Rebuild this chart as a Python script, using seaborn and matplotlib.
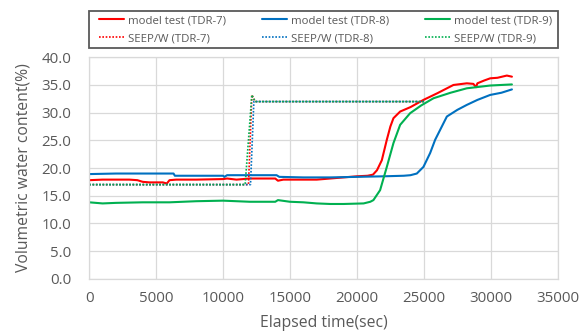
import matplotlib
matplotlib.use("Agg")
import matplotlib.pyplot as plt
from matplotlib.patches import Rectangle
import seaborn as sns
import pandas as pd

# ---- data ----
t7 = [0, 1000, 2000, 3000, 3600, 4000, 4500, 5000, 5500, 5800, 6000, 6500, 8000, 10000, 10300, 11000, 12000,
      13000, 13900, 14100, 14500, 16000, 17000, 18000, 19000, 20000, 20800, 21200, 21500, 21860, 22234, 22500,
      22730, 23230, 24000, 24970, 26000, 27210, 28210, 28700, 28900, 29000, 29500, 29955, 30500, 31200, 31580]
v7 = [17.8, 17.9, 17.9, 17.9, 17.8, 17.5, 17.4, 17.4, 17.4, 17.2, 17.8, 17.9, 17.9, 18.0, 18.1, 17.9, 18.1,
      18.1, 18.1, 17.7, 17.9, 17.9, 17.9, 18.1, 18.3, 18.5, 18.6, 18.8, 19.6, 21.4, 25.1, 27.5,
      29.0, 30.2, 31.0, 32.3, 33.5, 35.0, 35.3, 35.2, 34.6, 35.3, 35.8, 36.2, 36.3, 36.7, 36.5]

t8 = [0, 2000, 6300, 6400, 8000, 10000, 10100, 10300, 12000, 14000, 14200, 16000, 18000, 20000, 22000, 23500,
      24000, 24475, 24970, 25470, 25845, 26220, 26720, 27500, 28210, 29000, 29955, 30800, 31580]
v8 = [18.9, 19.0, 19.0, 18.6, 18.6, 18.6, 18.4, 18.7, 18.7, 18.7, 18.4, 18.3, 18.3, 18.4, 18.5, 18.6,
      18.7, 19.0, 20.2, 22.7, 25.1, 26.9, 29.3, 30.5, 31.4, 32.3, 33.2, 33.6, 34.2]

t9 = [0, 1000, 2000, 4000, 6000, 8000, 10000, 12000, 13900, 14100, 15000, 16000, 17000, 18000, 19000, 20500,
      21000, 21233, 21733, 22234, 22730, 23230, 23975, 24800, 25720, 27000, 28210, 29955, 31580]
v9 = [13.8, 13.6, 13.7, 13.8, 13.8, 14.0, 14.1, 13.9, 13.9, 14.2, 13.9, 13.8, 13.6, 13.5, 13.5, 13.6,
      13.9, 14.2, 16.0, 20.2, 24.5, 27.8, 29.9, 31.3, 32.6, 33.6, 34.4, 34.9, 35.1]

# SEEP/W simulation
s7_t = [0, 11900, 12150, 12400, 25000]
s7_v = [17.0, 17.0, 33.2, 32.0, 32.0]
s8_t = [0, 12050, 12300, 25000]
s8_v = [17.0, 17.0, 32.0, 32.0]
s9_t = [0, 11650, 12150, 12400, 25000]
s9_v = [17.0, 17.0, 33.2, 32.0, 32.0]

labels_model = ["model test (TDR-7)", "model test (TDR-8)", "model test (TDR-9)"]
labels_seep = ["SEEP/W (TDR-7)", "SEEP/W (TDR-8)", "SEEP/W (TDR-9)"]
colors = ["#FF0000", "#0070C0", "#00B050"]

x_ticks = [0, 5000, 10000, 15000, 20000, 25000, 30000, 35000]
y_ticks = [0, 5, 10, 15, 20, 25, 30, 35, 40]

# ---- plot ----
sns.set_theme(style="white")
plt.rcParams['font.family'] = ['Open Sans', 'DejaVu Sans']

W, H = 585, 334
fig = plt.figure(figsize=(5.85, 3.34), dpi=100)
ax = fig.add_axes([89.2 / W, 1 - 278.7 / H, (557.7 - 89.2) / W, (278.7 - 57.3) / H])

model = [(t7, v7), (t8, v8), (t9, v9)]
seep = [(s7_t, s7_v), (s8_t, s8_v), (s9_t, s9_v)]
for i in range(3):
    df = pd.DataFrame({"t": model[i][0], "v": model[i][1]})
    sns.lineplot(data=df, x="t", y="v", ax=ax, color=colors[i], linewidth=1.5,
                 label=labels_model[i], sort=False, estimator=None)
for i in range(3):
    df = pd.DataFrame({"t": seep[i][0], "v": seep[i][1]})
    sns.lineplot(data=df, x="t", y="v", ax=ax, color=colors[i], linewidth=1.2,
                 linestyle=(0, (1, 1)), label=labels_seep[i], sort=False, estimator=None)

ax.set_xlim(0, 35000)
ax.set_ylim(0, 40)
ax.set_xticks(x_ticks)
ax.set_yticks(y_ticks)
ax.set_yticklabels([f"{y:.1f}" for y in y_ticks])
ax.grid(True, color="#D9D9D9", linewidth=0.9)
for s in ax.spines.values():
    s.set_color("#D9D9D9")
    s.set_linewidth(0.9)
ax.tick_params(axis="both", colors="#595959", labelsize=10.8, length=0)
ax.tick_params(axis="x", pad=9)
ax.tick_params(axis="y", pad=13)
ax.set_xlabel("Elapsed time(sec)", fontsize=11.3, color="#595959", labelpad=6)
ax.set_ylabel("Volumetric water content(%)", fontsize=11.3, color="#595959", labelpad=7)

h, l = ax.get_legend_handles_labels()
order = [0, 3, 1, 4, 2, 5]
ax.get_legend().remove()
leg = fig.legend([h[k] for k in order], [l[k] for k in order], ncol=3,
                 loc="center", bbox_to_anchor=(325.5 / W, 1 - 29.65 / H),
                 frameon=False, fontsize=8.2, handlelength=2.2, handletextpad=0.3,
                 columnspacing=3.2, labelspacing=0.62, borderpad=0)
for t in leg.get_texts():
    t.set_color("#595959")
fig.patches.append(Rectangle((89.3 / W, 1 - 48.3 / H), 469 / W, 37.3 / H, transform=fig.transFigure,
                             fill=False, edgecolor="#595959", linewidth=1.3))

fig.savefig("out.png", dpi=100)
